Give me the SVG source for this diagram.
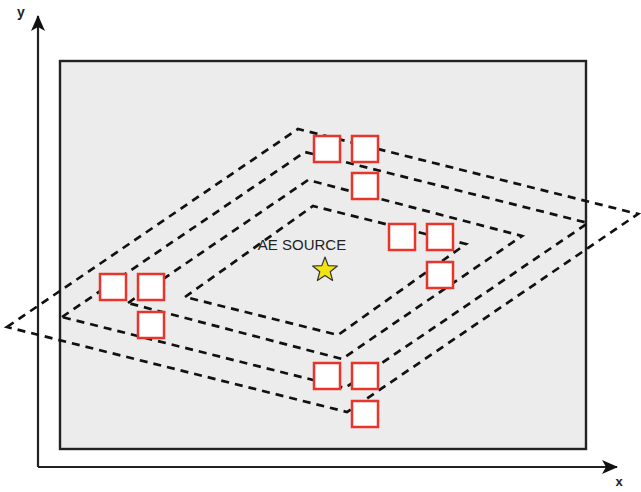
<svg xmlns="http://www.w3.org/2000/svg" width="641" height="492" viewBox="0 0 641 492">
  <style>
    .frame { fill: #ececec; stroke: #222; stroke-width: 2.4; }
    .axis { stroke: #222; stroke-width: 2.2; fill: none; }
    .ring { fill: none; stroke: #111; stroke-width: 2.7; stroke-dasharray: 8 6; stroke-linejoin: miter; }
    .sensor { fill: #ffffff; stroke: #e8352c; stroke-width: 2.5; }
    .lbl { font-family: "Liberation Sans", Arial, sans-serif; fill: #222; }
  </style>
  <defs>
    <marker id="arrow" viewBox="0 0 16 14" refX="15" refY="7" markerWidth="16" markerHeight="14" markerUnits="userSpaceOnUse" orient="auto">
      <path d="M0,0 L16,7 L0,14 L4,7 Z" fill="#111"/>
    </marker>
  </defs>
  <rect id="specimen" class="frame" x="60" y="61" width="526" height="388"/>
  <g id="axes">
    <line class="axis" x1="38" y1="467" x2="38" y2="16" marker-end="url(#arrow)"/>
    <line class="axis" x1="38" y1="467" x2="617" y2="467" marker-end="url(#arrow)"/>
    <text class="lbl" x="21" y="17" font-size="14" font-weight="bold" text-anchor="middle">y</text>
    <text class="lbl" x="619" y="486" font-size="13" font-weight="bold" text-anchor="middle">x</text>
  </g>
  <g id="connectors">
    <polygon class="ring" points="7,327 298,129 638,214 347,412"/>
    <polygon class="ring" points="62,317 305,152 588,223 345,388"/>
    <polygon class="ring" points="128,303 308,180 522,236 342,359"/>
    <polygon class="ring" points="185,297 313,206 466,244 338,335"/>
  </g>
  <g id="source">
    <text class="lbl" x="302" y="250" font-size="15" text-anchor="middle" fill="#333">AE SOURCE</text>
    <polygon points="325,257 328.2,265.6 337.4,266 330.2,271.7 332.6,280.5 325,275.5 317.4,280.5 319.8,271.7 312.6,266 321.8,265.6" fill="#f3e311" stroke="#333" stroke-width="1.2" stroke-linejoin="round"/>
  </g>
  <g id="sensor1"><rect class="sensor" x="314" y="136" width="26" height="26"/></g>
  <g id="sensor2"><rect class="sensor" x="352" y="136" width="26" height="26"/></g>
  <g id="sensor3"><rect class="sensor" x="352" y="173" width="26" height="26"/></g>
  <g id="sensor4"><rect class="sensor" x="389" y="224" width="26" height="26"/></g>
  <g id="sensor5"><rect class="sensor" x="427" y="224" width="26" height="26"/></g>
  <g id="sensor6"><rect class="sensor" x="427" y="262" width="26" height="26"/></g>
  <g id="sensor7"><rect class="sensor" x="100" y="274" width="26" height="26"/></g>
  <g id="sensor8"><rect class="sensor" x="138" y="274" width="26" height="26"/></g>
  <g id="sensor9"><rect class="sensor" x="138" y="312" width="26" height="26"/></g>
  <g id="sensor10"><rect class="sensor" x="314" y="363" width="26" height="26"/></g>
  <g id="sensor11"><rect class="sensor" x="352" y="363" width="26" height="26"/></g>
  <g id="sensor12"><rect class="sensor" x="352" y="401" width="26" height="26"/></g>
</svg>
